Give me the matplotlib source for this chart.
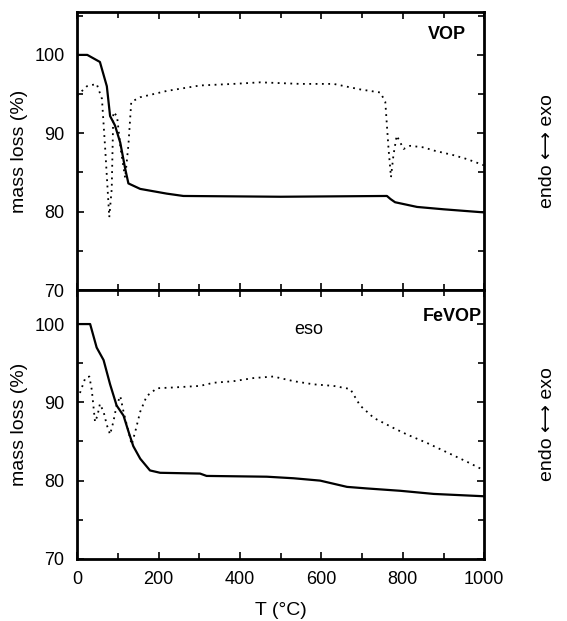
#!/usr/bin/env python3
"""
TG / DTA curves for VOP and FeVOP
"""

import matplotlib
matplotlib.use("Agg")
import matplotlib.pyplot as plt
from matplotlib.ticker import MultipleLocator

# VOP: mass loss (solid) and DTA trace (dotted)
vop_tg_T = [0, 25, 56, 73, 81, 93, 106, 118, 126, 155, 220, 261, 500, 761, 770, 781, 835, 900, 1000]
vop_tg = [100, 100, 99.1, 96, 92.2, 91, 88.8, 85.5, 83.6, 82.9, 82.3, 82, 81.9, 82, 81.6, 81.2, 80.6, 80.3, 79.9]
vop_dta_T = [0, 24, 48, 61, 69, 79, 85, 89, 98, 107, 118, 126, 133, 155, 220, 302, 384, 450, 548,
             630, 695, 745, 757, 765, 771, 777, 785, 802, 818, 851, 876, 925, 958, 1000]
vop_dta = [94.8, 96, 96.3, 94.4, 88, 79.3, 82.9, 92.7, 92.2, 88, 84.3, 88.5, 94, 94.6, 95.4, 96.1,
           96.3, 96.5, 96.3, 96.3, 95.6, 95.2, 94, 88, 84.4, 87.2, 89.7, 88, 88.4, 88.2, 87.8,
           87.2, 86.7, 85.9]

# FeVOP
fevop_tg_T = [0, 32, 48, 65, 81, 97, 114, 126, 138, 155, 179, 204, 302, 318, 466, 532, 597, 663,
              712, 794, 876, 1000]
fevop_tg = [100, 100, 97, 95.4, 92.3, 89.6, 88.3, 86.3, 84.4, 82.8, 81.3, 81, 80.9, 80.6, 80.5,
            80.3, 80, 79.2, 79, 78.7, 78.3, 78]
fevop_dta_T = [7, 20, 30, 36, 44, 50, 56, 65, 73, 81, 89, 97, 106, 114, 126, 134, 143, 155, 171,
               196, 237, 302, 335, 384, 433, 482, 532, 581, 630, 671, 695, 729, 778, 810, 860,
               909, 958, 1000]
fevop_dta = [91.2, 93.1, 93.3, 91.6, 87.5, 88.3, 89.8, 88.8, 87.1, 85.9, 87.5, 89.6, 90.8, 88.8,
             86.3, 84.6, 86.3, 88.8, 90.8, 91.8, 91.9, 92.1, 92.5, 92.7, 93.1, 93.3, 92.7, 92.3,
             92.1, 91.7, 89.6, 88, 86.7, 85.9, 84.8, 83.6, 82.4, 81.3]

x_ticks = [0, 200, 400, 600, 800, 1000]
y_ticks = [70, 80, 90, 100]

plt.rcParams['font.family'] = ['Liberation Sans', 'DejaVu Sans']
plt.rcParams['font.size'] = 12

fig = plt.figure(figsize=(5.67, 6.21), dpi=100)
ax_top = fig.add_axes([0.136, 0.533, 0.718, 0.448])
ax_bot = fig.add_axes([0.136, 0.100, 0.718, 0.433])


def style(ax, ytop):
    ax.set_xlim(0, 1000)
    ax.set_ylim(70, ytop)
    ax.set_yticks(y_ticks)
    ax.yaxis.set_minor_locator(MultipleLocator(5))
    ax.set_xticks(x_ticks)
    ax.xaxis.set_minor_locator(MultipleLocator(100))
    ax.tick_params(which='both', direction='in', top=True, right=True, width=1.2)
    ax.tick_params(which='major', length=5)
    ax.tick_params(which='minor', length=4)
    ax.tick_params(axis='y', pad=9, labelsize=13)
    ax.tick_params(axis='x', pad=9, labelsize=13)
    for s in ax.spines.values():
        s.set_linewidth(2)
    ax.set_ylabel('mass loss (%)', fontsize=14)
    ax.yaxis.set_label_coords(-0.12, 0.5)
    # right side endo/exo label
    ax.text(1.155, 0.5, 'endo \u27f7 exo', transform=ax.transAxes, rotation=90,
            ha='center', va='center', fontsize=14)


style(ax_top, 105.5)
style(ax_bot, 104.35)

ax_top.plot(vop_tg_T, vop_tg, color='black', lw=1.6)
ax_top.plot(vop_dta_T, vop_dta, color='black', lw=1.3, ls=(0, (1, 2.5)))
ax_top.tick_params(labelbottom=False)
ax_top.text(0.955, 0.92, 'VOP', transform=ax_top.transAxes, ha='right', va='center',
            fontsize=13, fontweight='bold')

ax_bot.plot(fevop_tg_T, fevop_tg, color='black', lw=1.6)
ax_bot.plot(fevop_dta_T, fevop_dta, color='black', lw=1.3, ls=(0, (1, 2.5)))
ax_bot.text(0.995, 0.9, 'FeVOP', transform=ax_bot.transAxes, ha='right', va='center',
            fontsize=13, fontweight='bold')
ax_bot.text(568, 99.3, 'eso', ha='center', va='center', fontsize=13)
ax_bot.set_xlabel('T (\u00b0C)', fontsize=14, labelpad=10)

fig.savefig('out.png', dpi=100)
